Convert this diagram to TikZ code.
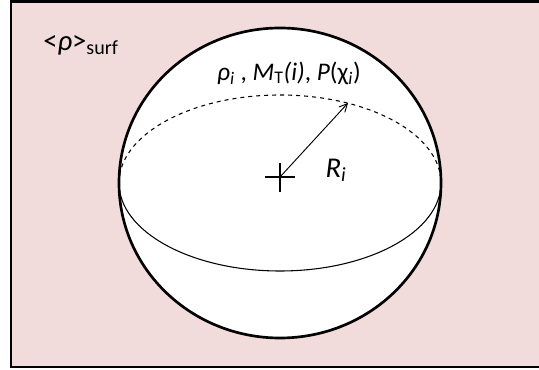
\documentclass[tikz,border=0pt]{standalone}
\usepackage{fontspec}
\setmainfont{Carlito}
\usetikzlibrary{arrows.meta}
\definecolor{SurfPink}{RGB}{242, 220, 219}

\begin{document}
\begin{tikzpicture}[
    x=0.75pt, y=-0.75pt,
    every node/.style={font=\fontsize{19}{22}\selectfont, inner sep=0pt},
    big label/.style={font=\fontsize{21.5}{25}\selectfont},
    frame/.style={draw, line width=2.2pt, fill=SurfPink},
    sphere/.style={draw, line width=2pt, fill=white},
    equator/.style={line width=0.8pt},
    radius arrow/.style={line width=0.7pt, -{Straight Barb[length=6pt, width=6pt]}}
  ]
    \useasboundingbox (0,0) rectangle (539,370);
    \draw[frame] (11,1.5) rectangle (560,367);
    \draw[sphere] (280,183) ellipse [x radius=120.75pt, y radius=116.25pt];
    \draw[equator, dashed] (119,183) arc [start angle=180, end angle=0, x radius=120.75pt, y radius=66pt];
    \draw[equator] (119,183) arc [start angle=180, end angle=360, x radius=120.75pt, y radius=66pt];
    \coordinate (centre) at (280,177);
    \coordinate (rim) at (348,103);
    \draw[line width=0.9pt] (centre) +(-15,0) -- +(15,0);
    \draw[line width=0.9pt] (centre) +(0,-14) -- +(0,15);
    \draw[radius arrow] (centre) -- (rim);
    \node[big label] (rhosurf) at (81,45) {<{\itshape ρ}>\textsubscript{surf}};
    \node (props) at (289,73) {{\itshape ρ\textsubscript{i}} , {\itshape M}\textsubscript{T}{\itshape (i)}, {\itshape P}(χ\textsubscript{\itshape i})};
    \node[big label] (rlabel) at (336,170) {{\itshape R\textsubscript{i}}};
\end{tikzpicture}
\end{document}
